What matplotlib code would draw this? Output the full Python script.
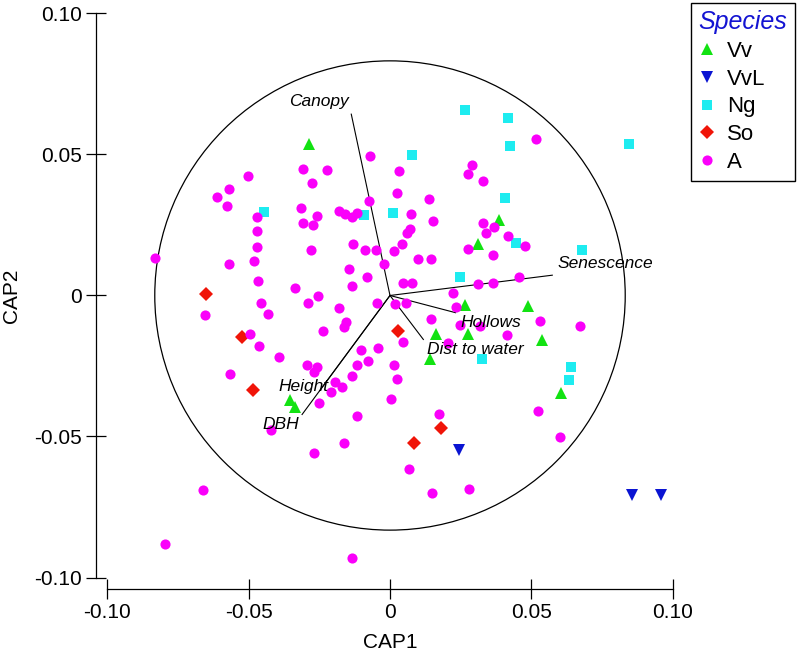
import matplotlib
matplotlib.use("Agg")
import matplotlib.pyplot as plt
from matplotlib.patches import Circle

plt.rcParams['font.family'] = ['Liberation Sans', 'DejaVu Sans']

# species scores on CAP1 / CAP2
vv_x = [-0.0285, 0.0385, 0.0313, 0.0265, 0.0488, 0.0161, 0.0277, 0.0537, 0.0141, 0.0605, -0.0352, -0.0335]
vv_y = [0.0537, 0.0266, 0.0184, -0.0035, -0.0037, -0.0135, -0.0135, -0.0158, -0.0226, -0.0345, -0.0371, -0.0397]

vvl_x = [0.0245, 0.0857, 0.0960]
vvl_y = [-0.0548, -0.0707, -0.0707]

ng_x = [0.0265, 0.0416, 0.0424, 0.0845, 0.0077, 0.0405, -0.0446, -0.0091, 0.0009, 0.0445, 0.0680, 0.0248, 0.0324, 0.0639, 0.0633]
ng_y = [0.0658, 0.0628, 0.0530, 0.0536, 0.0498, 0.0347, 0.0295, 0.0287, 0.0294, 0.0185, 0.0161, 0.0067, -0.0225, -0.0252, -0.0300]

so_x = [-0.0652, -0.0524, -0.0484, 0.0029, 0.0179, 0.0086]
so_y = [0.0005, -0.0148, -0.0334, -0.0127, -0.0469, -0.0524]

a_x = [-0.0071, -0.0309, -0.0223, 0.0033, -0.0502, -0.0275, -0.0568, -0.0613, -0.0577, 0.0024,
       -0.0075, -0.0316, -0.0469, -0.0257, -0.0307, -0.0271, -0.0179, -0.0159, -0.0135, -0.0115,
       0.0074, -0.0472, 0.0071, 0.0060, -0.0469, -0.0279, -0.0130, -0.0089, -0.0050, 0.0013,
       0.0044, 0.0099, -0.0831, -0.0568, -0.0481, -0.0020, -0.0144, -0.0081, -0.0467, -0.0134,
       0.0045, 0.0077, -0.0336, -0.0256, 0.0516, 0.0289, 0.0277, 0.0328, 0.0139, 0.0153,
       0.0330, 0.0367, 0.0340, 0.0418, 0.0478, 0.0276, 0.0363, 0.0144, 0.0455, 0.0313,
       0.0365, 0.0224, -0.0654, -0.0456, -0.0430, -0.0289, -0.0181, -0.0047, 0.0018, 0.0057,
       -0.0157, -0.0163, -0.0238, -0.0495, -0.0462, -0.0394, 0.0045, -0.0104, -0.0044, -0.0079,
       -0.0118, 0.0013, -0.0295, -0.0257, -0.0269, -0.0566, -0.0136, 0.0025, -0.0195, -0.0169,
       -0.0209, 0.0004, -0.0251, -0.0116, -0.0421, -0.0162, -0.0270, 0.0067, -0.0661, -0.0795,
       -0.0133, 0.0233, 0.0145, 0.0248, 0.0318, 0.0531, 0.0671, 0.0413, 0.0206, 0.0173,
       0.0525, 0.0602, 0.0149, 0.0278]
a_y = [0.0495, 0.0449, 0.0445, 0.0440, 0.0424, 0.0398, 0.0379, 0.0348, 0.0317, 0.0362,
       0.0336, 0.0312, 0.0279, 0.0281, 0.0258, 0.0250, 0.0301, 0.0289, 0.0277, 0.0291,
       0.0290, 0.0229, 0.0234, 0.0220, 0.0173, 0.0161, 0.0183, 0.0161, 0.0161, 0.0156,
       0.0184, 0.0131, 0.0134, 0.0111, 0.0123, 0.0111, 0.0094, 0.0064, 0.0053, 0.0035,
       0.0045, 0.0046, 0.0025, -0.0003, 0.0555, 0.0463, 0.0431, 0.0406, 0.0341, 0.0263,
       0.0258, 0.0242, 0.0223, 0.0212, 0.0177, 0.0164, 0.0145, 0.0129, 0.0067, 0.0039,
       0.0046, 0.0008, -0.0070, -0.0026, -0.0067, -0.0027, -0.0044, -0.0025, -0.0031, -0.0028,
       -0.0095, -0.0111, -0.0126, -0.0137, -0.0179, -0.0218, -0.0165, -0.0193, -0.0187, -0.0231,
       -0.0245, -0.0246, -0.0246, -0.0255, -0.0270, -0.0279, -0.0284, -0.0296, -0.0306, -0.0324,
       -0.0342, -0.0367, -0.0383, -0.0429, -0.0477, -0.0524, -0.0560, -0.0614, -0.0690, -0.0882,
       -0.0930, -0.0040, -0.0084, -0.0103, -0.0108, -0.0089, -0.0107, -0.0140, -0.0167, -0.0420,
       -0.0410, -0.0503, -0.0699, -0.0685]

# environmental vectors (end points) and their label spots
vec_names = ['Canopy', 'Senescence', 'Hollows', 'Dist to water', 'Height', 'DBH']
vec_x = [-0.0137, 0.0574, 0.0232, 0.0118, -0.0249, -0.0311]
vec_y = [0.0643, 0.0072, -0.0061, -0.0156, -0.0338, -0.0422]
lab_x = [-0.0252, 0.0592, 0.0250, 0.0130, -0.0307, -0.0386]
lab_y = [0.0688, 0.0114, -0.0097, -0.0192, -0.0321, -0.0459]
lab_ha = ['center', 'left', 'left', 'left', 'center', 'center']

circle_r = 0.0832

ticks = [-0.10, -0.05, 0, 0.05, 0.10]
tick_labels = ['-0.10', '-0.05', '0', '0.05', '0.10']

fig = plt.figure(figsize=(8, 6.51), dpi=100)
ax = fig.add_axes([0.1341, 0.1129, 0.7068, 0.8664])

ax.add_patch(Circle((0, 0), circle_r, fill=False, edgecolor='black', linewidth=0.9))

for i in range(len(vec_names)):
    ax.plot([0, vec_x[i]], [0, vec_y[i]], color='black', linewidth=0.8)

ax.plot(vv_x, vv_y, linestyle='none', marker='^', ms=9, color='#12e212', mew=0, label='Vv')
ax.plot(vvl_x, vvl_y, linestyle='none', marker='v', ms=9, color='#0a14d2', mew=0, label='VvL')
ax.plot(ng_x, ng_y, linestyle='none', marker='s', ms=7, color='#1eecf0', mew=0, label='Ng')
ax.plot(so_x, so_y, linestyle='none', marker='D', ms=6.8, color='#f01408', mew=0, label='So')
ax.plot(a_x, a_y, linestyle='none', marker='o', ms=7.3, color='#fa00fa', mew=0, label='A')

for i in range(len(vec_names)):
    ax.text(lab_x[i], lab_y[i], vec_names[i], fontsize=12.5, style='italic',
            ha=lab_ha[i], va='center', color='black')

ax.set_xlim(-0.10, 0.10)
ax.set_ylim(-0.10, 0.10)
ax.set_xticks(ticks)
ax.set_xticklabels(tick_labels)
ax.set_yticks(ticks)
ax.set_yticklabels(tick_labels)

ax.spines['top'].set_visible(False)
ax.spines['right'].set_visible(False)
ax.spines['left'].set_position(('outward', 8))
ax.spines['bottom'].set_position(('outward', 8))
for s in ['left', 'bottom']:
    ax.spines[s].set_linewidth(0.9)
ax.tick_params(direction='inout', length=14, width=0.9, labelsize=15, pad=3.5)

ax.set_xlabel('CAP1', fontsize=15, labelpad=8)
ax.set_ylabel('CAP2', fontsize=15, labelpad=9)

leg = ax.legend(loc='upper right', bbox_to_anchor=(795 / 800, 1 - 2.7 / 651),
                bbox_transform=fig.transFigure, borderaxespad=0, fontsize=16,
                title='Species', fancybox=False, framealpha=1, edgecolor='black',
                borderpad=0.35, handlelength=0.8, handletextpad=0.5, labelspacing=0.3,
                alignment='left')
leg.get_title().set_fontsize(18)
leg.get_title().set_style('italic')
leg.get_title().set_color('#1414d2')
leg.get_frame().set_linewidth(1.0)

fig.savefig('out.png', dpi=100)
